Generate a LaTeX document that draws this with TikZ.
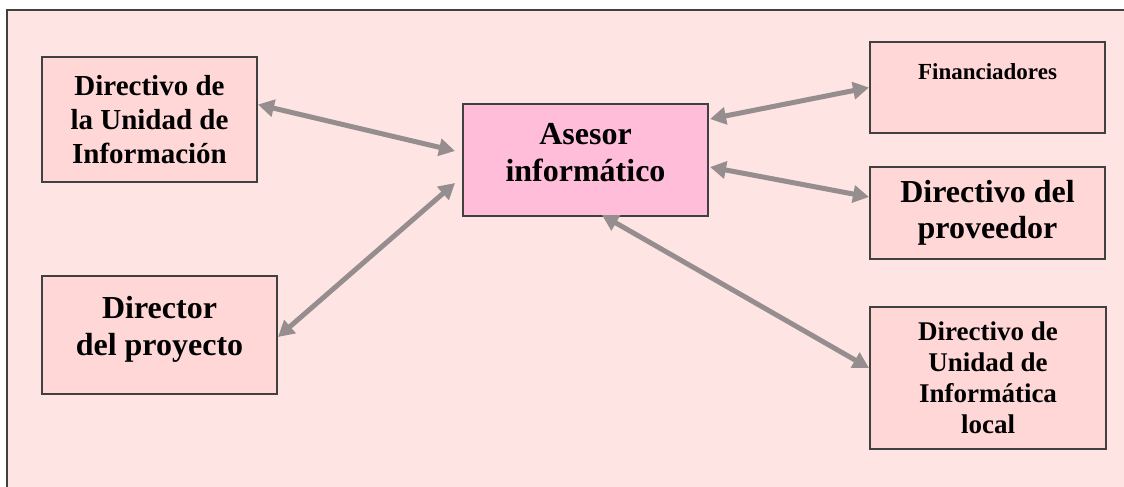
\documentclass[tikz,border=0pt]{standalone}
\usepackage{fontspec}
\setmainfont{Liberation Serif}
\usetikzlibrary{arrows.meta}

\definecolor{rosafondo}{HTML}{FFE4E4}
\definecolor{rosacaja}{HTML}{FFD7D7}
\definecolor{rosaasesor}{HTML}{FFBDD9}
\definecolor{grisborde}{HTML}{404040}
\definecolor{grisflecha}{HTML}{968E8E}

\tikzset{
	caja/.style={draw=grisborde, line width=2pt, fill=rosacaja, inner sep=0pt, align=center},
	flecha/.style={draw=grisflecha, line width=5pt,
		{Triangle[length=16pt,width=17pt]}-{Triangle[length=16pt,width=17pt]}}
}

\begin{document}
\begin{tikzpicture}[x=1pt, y=-1pt]
	\useasboundingbox (0,0) rectangle (1124,487);
	\clip (0,0) rectangle (1124,487);
	\fill[white] (0,0) rectangle (1124,487);
	% marco exterior, abierto a la derecha y abajo
	\fill[rosafondo] (7,10) rectangle (1124,487);
	\draw[draw=grisborde, line width=2pt] (1124,10) -- (7,10) -- (7,487);

	% cajas
	\node[caja, minimum width=215pt, minimum height=125pt, font=\bfseries\fontsize{29pt}{34pt}\selectfont]
		(unidad) at (149.5,119.5) {Directivo de\\la Unidad de\\Información};
	\node[caja, minimum width=235pt, minimum height=118pt, text depth=19pt, font=\bfseries\fontsize{32pt}{37pt}\selectfont]
		(director) at (159.5,335) {Director\\del proyecto};
	\node[caja, fill=rosaasesor, minimum width=245pt, minimum height=112pt, text depth=15pt, font=\bfseries\fontsize{32pt}{37pt}\selectfont]
		(asesor) at (585.5,160) {Asesor\\informático};
	\node[caja, minimum width=235pt, minimum height=91pt, text depth=31pt, font=\bfseries\fontsize{23pt}{27pt}\selectfont]
		(financ) at (987.5,87.5) {Financiadores};
	\node[caja, minimum width=235pt, minimum height=92pt, font=\bfseries\fontsize{32pt}{36pt}\selectfont]
		(proveedor) at (987.5,213) {Directivo del\\proveedor};
	\node[caja, minimum width=236pt, minimum height=142pt, font=\bfseries\fontsize{27pt}{31pt}\selectfont]
		(local) at (988,378) {Directivo de\\Unidad de\\Informática\\local};

	% flechas
	\draw[flecha] ([yshift=15pt]unidad.east) -- ([shift={(-7pt,9pt)}]asesor.west);
	\draw[flecha] ([shift={(-7pt,-23pt)}]asesor.west) -- ([yshift=-2pt]director.east);
	\draw[flecha] ([shift={(1pt,41pt)}]asesor.east) -- (financ.west);
	\draw[flecha] ([shift={(1pt,-7pt)}]asesor.east) -- ([yshift=16pt]proveedor.west);
	\draw[flecha] ([shift={(16.5pt,2pt)}]asesor.south) -- ([yshift=10pt]local.west);
\end{tikzpicture}
\end{document}
